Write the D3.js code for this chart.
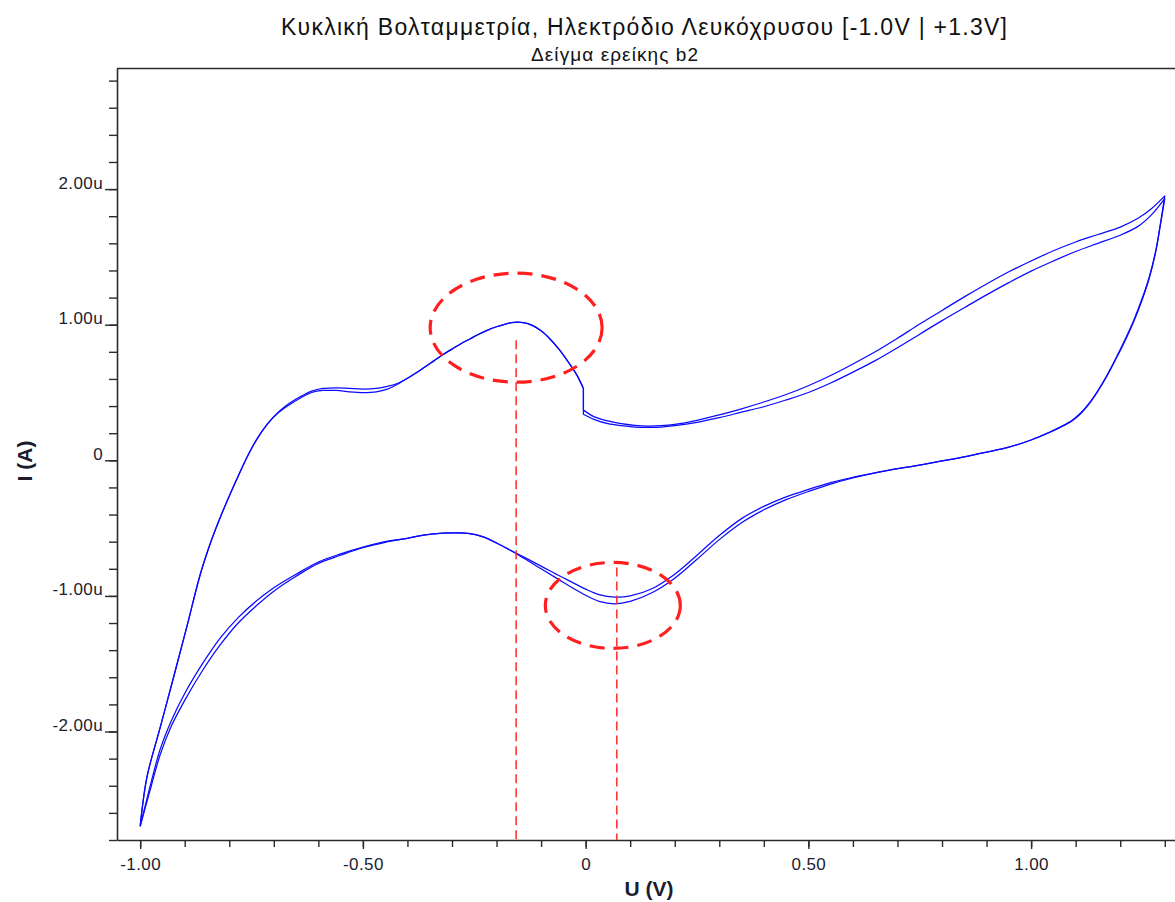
<!DOCTYPE html>
<html>
<head>
<meta charset="utf-8">
<script src="https://cdn.jsdelivr.net/npm/d3@7"></script>
<style>
  html, body { margin: 0; padding: 0; background: #ffffff; }
  svg { display: block; font-family: "Liberation Sans", Arial, sans-serif; }
</style>
</head>
<body>
<svg id="chart" width="1175" height="902"></svg>
<script>
// ---- Cyclic voltammogram, Pt electrode, -1.0 V .. +1.3 V (potential in V, current in µA) ----

// Anodic sweep, -1.00 V up to the range switch just below 0 V
const anodicLowPotential = [-1.000, -0.985, -0.955, -0.925, -0.895, -0.865, -0.840, -0.815, -0.790,
  -0.765, -0.740, -0.715, -0.690, -0.665, -0.640, -0.615, -0.590, -0.560, -0.530, -0.500, -0.470,
  -0.445, -0.420, -0.400, -0.380, -0.360, -0.340, -0.320, -0.300, -0.280, -0.260, -0.240, -0.220,
  -0.200, -0.180, -0.160, -0.140, -0.120, -0.100, -0.080, -0.060, -0.040, -0.020, -0.005];
const anodicLowCurrentScan1 = [-2.70, -2.34, -1.97, -1.60, -1.225, -0.84, -0.59, -0.38, -0.19,
  -0.01, 0.145, 0.265, 0.355, 0.42, 0.47, 0.51, 0.53, 0.535, 0.53, 0.525, 0.53,
  0.545, 0.57, 0.605, 0.645, 0.69, 0.735, 0.78, 0.82, 0.86, 0.895, 0.93, 0.96,
  0.985, 1.005, 1.018, 1.015, 0.995, 0.955, 0.895, 0.82, 0.73, 0.63, 0.53];
const anodicLowCurrentScan2 = [-2.70, -2.34, -1.97, -1.60, -1.225, -0.84, -0.59, -0.38, -0.19,
  -0.01, 0.145, 0.265, 0.35, 0.41, 0.46, 0.50, 0.515, 0.515, 0.505, 0.50, 0.505,
  0.525, 0.565, 0.605, 0.645, 0.69, 0.735, 0.78, 0.82, 0.86, 0.895, 0.93, 0.96,
  0.985, 1.005, 1.018, 1.015, 0.995, 0.955, 0.895, 0.82, 0.73, 0.63, 0.53];

// Anodic sweep after the range switch, up to +1.30 V
const anodicHighPotential = [-0.005, 0.020, 0.050, 0.080, 0.110, 0.140, 0.170, 0.200, 0.250, 0.300,
  0.350, 0.400, 0.450, 0.500, 0.550, 0.600, 0.650, 0.700, 0.750, 0.800, 0.850, 0.900, 0.950, 1.000,
  1.050, 1.100, 1.150, 1.200, 1.240, 1.270, 1.300];
const anodicHighCurrentScan1 = [0.37, 0.32, 0.29, 0.27, 0.258, 0.252, 0.255, 0.265, 0.295, 0.335,
  0.38, 0.43, 0.485, 0.55, 0.625, 0.71, 0.80, 0.90, 1.005, 1.105, 1.205, 1.30, 1.39, 1.47,
  1.545, 1.61, 1.665, 1.72, 1.785, 1.855, 1.95];
const anodicHighCurrentScan2 = [0.34, 0.30, 0.27, 0.255, 0.245, 0.242, 0.245, 0.255, 0.28, 0.315,
  0.355, 0.395, 0.445, 0.50, 0.57, 0.65, 0.735, 0.83, 0.93, 1.03, 1.125, 1.22, 1.31, 1.395,
  1.47, 1.54, 1.60, 1.66, 1.725, 1.81, 1.93];

// Cathodic sweep, +1.30 V back down to -1.00 V
const cathodicPotential = [1.300, 1.290, 1.280, 1.265, 1.250, 1.230, 1.210, 1.190, 1.170, 1.150,
  1.130, 1.110, 1.090, 1.065, 1.040, 1.000, 0.950, 0.900, 0.850, 0.800, 0.750, 0.700, 0.650, 0.600,
  0.550, 0.500, 0.450, 0.400, 0.350, 0.300, 0.250, 0.200, 0.150, 0.100, 0.065, 0.030, 0.000, -0.030,
  -0.060, -0.100, -0.150, -0.200, -0.230, -0.260, -0.290, -0.320, -0.360, -0.400, -0.450, -0.500,
  -0.550, -0.600, -0.650, -0.700, -0.740, -0.780, -0.820, -0.860, -0.900, -0.930, -0.955, -0.975,
  -1.000];
const cathodicCurrentScan1 = [1.95, 1.74, 1.55, 1.35, 1.20, 1.03, 0.885, 0.75, 0.625, 0.515,
  0.42, 0.345, 0.29, 0.245, 0.205, 0.15, 0.097, 0.06, 0.025, -0.005, -0.035, -0.062, -0.093, -0.13,
  -0.175, -0.23, -0.29, -0.365, -0.46, -0.585, -0.73, -0.87, -0.975, -1.04, -1.058, -1.04, -0.995, -0.94,
  -0.88, -0.80, -0.70, -0.61, -0.565, -0.541, -0.535, -0.537, -0.55, -0.575, -0.605, -0.645,
  -0.70, -0.76, -0.855, -0.965, -1.075, -1.20, -1.36, -1.55, -1.77, -1.96, -2.17, -2.40,
  -2.70];
const cathodicCurrentScan2 = [1.93, 1.73, 1.54, 1.34, 1.19, 1.02, 0.875, 0.745, 0.62, 0.51,
  0.415, 0.34, 0.287, 0.243, 0.204, 0.15, 0.097, 0.06, 0.025, -0.005, -0.035, -0.062, -0.093, -0.125,
  -0.165, -0.215, -0.27, -0.34, -0.43, -0.555, -0.70, -0.84, -0.945, -1.00, -1.009, -0.99, -0.95, -0.90,
  -0.85, -0.78, -0.695, -0.61, -0.565, -0.541, -0.535, -0.537, -0.55, -0.575, -0.60, -0.64,
  -0.69, -0.75, -0.84, -0.94, -1.04, -1.16, -1.31, -1.50, -1.72, -1.92, -2.13, -2.37,
  -2.70];

// Peak annotations: oxidation peak and reduction peak
const peakPotential = [-0.156, 0.070];
const peakGuideTop = [0.886, -0.79];
const peakEllipseU = [-0.156, 0.061];
const peakEllipseI = [0.978, -1.07];
const peakEllipseHalfU = [0.193, 0.1515];
const peakEllipseHalfI = [0.402, 0.317];

// Axis ticks
const xTickValues = [-1, -0.5, 0, 0.5, 1];
const xTickLabels = ["-1.00", "-0.50", "0", "0.50", "1.00"];
const xMinorTicks = [-1.0, -0.9, -0.8, -0.7, -0.6, -0.5, -0.4, -0.3, -0.2, -0.1, 0, 0.1, 0.2, 0.3,
  0.4, 0.5, 0.6, 0.7, 0.8, 0.9, 1.0, 1.1, 1.2, 1.3];
const yTickValues = [-2, -1, 0, 1, 2];
const yTickLabels = ["-2.00u", "-1.00u", "0", "1.00u", "2.00u"];
const yMinorTicks = [-2.8, -2.6, -2.4, -2.2, -2.0, -1.8, -1.6, -1.4, -1.2, -1.0, -0.8, -0.6, -0.4, -0.2,
  0, 0.2, 0.4, 0.6, 0.8, 1.0, 1.2, 1.4, 1.6, 1.8, 2.0, 2.2, 2.4, 2.6, 2.8];

const titleText = "Κυκλική Βολταμμετρία, Ηλεκτρόδιο Λευκόχρυσου [-1.0V | +1.3V]";
const subtitleText = "Δείγμα ερείκης b2";
const xAxisTitle = "U (V)";
const yAxisTitle = "I (A)";

// ---- layout ----
const svg = d3.select("#chart");
const plot = { left: 117, top: 68, right: 1175, bottom: 840 };
const axisColor = "#2b2b2b";
const textColor = "#1c1c2e";
const labelFont = "\"Liberation Sans\", Arial, sans-serif";

const x = d3.scaleLinear().domain([-1.052, 1.323]).range([plot.left, plot.right]);
const y = d3.scaleLinear().domain([-2.8, 2.893]).range([plot.bottom, plot.top]);

// Titles
svg.append("text")
  .attr("x", 644).attr("y", 35)
  .attr("text-anchor", "middle")
  .attr("font-size", 23)
  .attr("textLength", 726).attr("lengthAdjust", "spacing")
  .attr("fill", "#111")
  .text(titleText);
svg.append("text")
  .attr("x", 614.5).attr("y", 61)
  .attr("text-anchor", "middle")
  .attr("font-size", 19)
  .attr("textLength", 167).attr("lengthAdjust", "spacing")
  .attr("fill", "#111")
  .text(subtitleText);

// Frame top line
svg.append("line")
  .attr("x1", plot.left).attr("x2", plot.right)
  .attr("y1", plot.top + 0.5).attr("y2", plot.top + 0.5)
  .attr("stroke", axisColor).attr("stroke-width", 1.6);

// Y axis: minor ticks, then labelled major ticks
svg.append("g")
  .attr("transform", `translate(${plot.left},0)`)
  .call(d3.axisLeft(y).tickValues(yMinorTicks).tickSize(8).tickSizeOuter(0).tickFormat(""));
const yMajor = svg.append("g")
  .attr("transform", `translate(${plot.left},0)`)
  .call(d3.axisLeft(y).tickValues(yTickValues).tickSize(12).tickSizeOuter(0)
    .tickFormat((d, i) => yTickLabels[i]));
yMajor.select(".domain").remove();
yMajor.selectAll("text")
  .attr("x", -14).attr("dy", 0).attr("y", -1)
  .attr("font-size", 17).attr("letter-spacing", 0.4)
  .attr("font-family", labelFont)
  .attr("fill", textColor);

// X axis
svg.append("g")
  .attr("transform", `translate(0,${plot.bottom})`)
  .call(d3.axisBottom(x).tickValues(xMinorTicks).tickSize(7).tickSizeOuter(0).tickFormat(""));
const xMajor = svg.append("g")
  .attr("transform", `translate(0,${plot.bottom})`)
  .call(d3.axisBottom(x).tickValues(xTickValues).tickSize(9).tickSizeOuter(0)
    .tickFormat((d, i) => xTickLabels[i]));
xMajor.select(".domain").remove();
xMajor.selectAll("text")
  .attr("y", 30).attr("dy", 0)
  .attr("font-size", 17).attr("letter-spacing", 0.4)
  .attr("font-family", labelFont)
  .attr("fill", textColor);

svg.selectAll(".domain").attr("stroke", axisColor).attr("stroke-width", 1.6);
svg.selectAll(".tick line").attr("stroke", axisColor).attr("stroke-width", 1.4);

// Axis titles
svg.append("text")
  .attr("x", 649).attr("y", 896)
  .attr("text-anchor", "middle")
  .attr("font-size", 21).attr("font-weight", "bold")
  .attr("fill", textColor)
  .text(xAxisTitle);
svg.append("text")
  .attr("transform", "translate(32,461) rotate(-90)")
  .attr("text-anchor", "middle")
  .attr("font-size", 21).attr("font-weight", "bold")
  .attr("fill", textColor)
  .text(yAxisTitle);

// ---- voltammogram traces ----
const smooth = d3.line()
  .x(d => x(d[0]))
  .y(d => y(d[1]))
  .curve(d3.curveCatmullRom.alpha(0.5));

function zipPoints(us, is) { return us.map((u, k) => [u, is[k]]); }

// One closed scan: anodic (low), range switch jump, anodic (high), cathodic return
function scanPath(lowI, highI, cathI) {
  const a = smooth(zipPoints(anodicLowPotential, lowI));
  const b = smooth(zipPoints(anodicHighPotential, highI));
  const c = smooth(zipPoints(cathodicPotential, cathI));
  return a + "L" + b.slice(1) + "L" + c.slice(1);
}

const scans = [
  scanPath(anodicLowCurrentScan1, anodicHighCurrentScan1, cathodicCurrentScan1),
  scanPath(anodicLowCurrentScan2, anodicHighCurrentScan2, cathodicCurrentScan2)
];

svg.append("g")
  .selectAll("path")
  .data(scans)
  .join("path")
  .attr("d", d => d)
  .attr("fill", "none")
  .attr("stroke", "#0a0aff")
  .attr("stroke-width", 1.25)
  .attr("stroke-linejoin", "round");

// ---- peak annotations ----
const ann = svg.append("g");
ann.selectAll("line.guide")
  .data(peakPotential)
  .join("line")
  .attr("class", "guide")
  .attr("x1", d => x(d)).attr("x2", d => x(d))
  .attr("y1", (d, k) => y(peakGuideTop[k]))
  .attr("y2", plot.bottom)
  .attr("stroke", "#ff2a2a")
  .attr("stroke-width", 1.5)
  .attr("stroke-dasharray", "9 5");

ann.selectAll("ellipse")
  .data(peakEllipseU)
  .join("ellipse")
  .attr("cx", d => x(d))
  .attr("cy", (d, k) => y(peakEllipseI[k]))
  .attr("rx", (d, k) => x(d + peakEllipseHalfU[k]) - x(d))
  .attr("ry", (d, k) => y(peakEllipseI[k] - peakEllipseHalfI[k]) - y(peakEllipseI[k]))
  .attr("fill", "none")
  .attr("stroke", "#ff1f1f")
  .attr("stroke-width", 3.2)
  .attr("stroke-dasharray", "15 9");
</script>
</body>
</html>
